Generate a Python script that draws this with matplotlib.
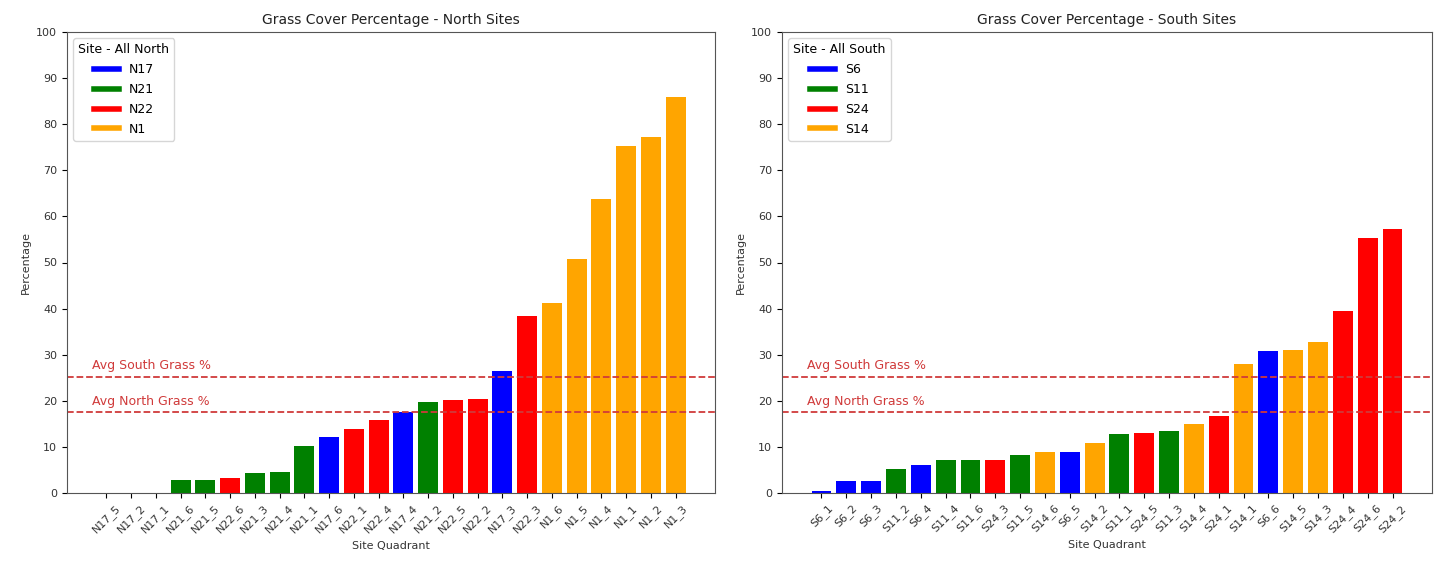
import matplotlib
matplotlib.use("Agg")
import matplotlib.pyplot as plt
from matplotlib.lines import Line2D

north_labels = ["N17_5", "N17_2", "N17_1", "N21_6", "N21_5", "N22_6", "N21_3", "N21_4",
                "N21_1", "N17_6", "N22_1", "N22_4", "N17_4", "N21_2", "N22_5", "N22_2",
                "N17_3", "N22_3", "N1_6", "N1_5", "N1_4", "N1_1", "N1_2", "N1_3"]
north_values = [0, 0, 0, 2.8, 2.8, 3.2, 4.3, 4.5, 10.2, 12.1, 13.8, 15.9, 17.5, 19.8,
                20.2, 20.4, 26.4, 38.5, 41.2, 50.7, 63.8, 75.3, 77.3, 86.0]

south_labels = ["S6_1", "S6_2", "S6_3", "S11_2", "S6_4", "S11_4", "S11_6", "S24_3",
                "S11_5", "S14_6", "S6_5", "S14_2", "S11_1", "S24_5", "S11_3", "S14_4",
                "S24_1", "S14_1", "S6_6", "S14_5", "S14_3", "S24_4", "S24_6", "S24_2"]
south_values = [0.5, 2.5, 2.6, 5.2, 6.0, 7.2, 7.2, 7.2, 8.2, 8.8, 8.8, 10.8, 12.8, 13.0,
                13.5, 15.0, 16.7, 28.0, 30.7, 31.1, 32.7, 39.4, 55.4, 57.3]

north_sites = ["N17", "N21", "N22", "N1"]
south_sites = ["S6", "S11", "S24", "S14"]
site_colors = ["blue", "green", "red", "orange"]

avg_south_line = 25.2
avg_north_line = 17.5

line_color = "#d03a3a"

fig = plt.figure(figsize=(14.35, 5.63), dpi=100)
ax1 = fig.add_axes([67/1435, 1-493/563, 648/1435, 461/563])
ax2 = fig.add_axes([782/1435, 1-493/563, 650/1435, 461/563])


def draw(ax, labels, values, sites, title, legend_title):
    cmap = dict(zip(sites, site_colors))
    cols = [cmap[l.split("_")[0]] for l in labels]
    x = list(range(len(labels)))
    ax.bar(x, values, color=cols, width=0.8)
    ax.set_xticks(x)
    ax.set_xticklabels(labels, rotation=45, fontsize=8, color="#333333")
    ax.tick_params(axis="y", labelsize=8, labelcolor="#333333")
    ax.set_ylim(0, 100)
    ax.set_yticks(range(0, 101, 10))
    ax.axhline(avg_south_line, color=line_color, linestyle="--", linewidth=1.3)
    ax.axhline(avg_north_line, color=line_color, linestyle="--", linewidth=1.3)
    ax.text(-0.6, avg_south_line + 1.6, "Avg South Grass %", color=line_color, fontsize=9)
    ax.text(-0.6, avg_north_line + 1.6, "Avg North Grass %", color=line_color, fontsize=9)
    ax.set_title(title, fontsize=10, color="#222222")
    ax.set_xlabel("Site Quadrant", fontsize=8, color="#333333")
    ax.set_ylabel("Percentage", fontsize=8, color="#333333")
    handles = [Line2D([0], [0], color=c, lw=4) for c in site_colors]
    ax.legend(handles, sites, title=legend_title, loc="upper left", fontsize=9,
              title_fontsize=9, labelspacing=0.55)
    for s in ax.spines.values():
        s.set_color("#555555")


draw(ax1, north_labels, north_values, north_sites,
     "Grass Cover Percentage - North Sites", "Site - All North")
draw(ax2, south_labels, south_values, south_sites,
     "Grass Cover Percentage - South Sites", "Site - All South")

fig.savefig("out.png", dpi=100)
